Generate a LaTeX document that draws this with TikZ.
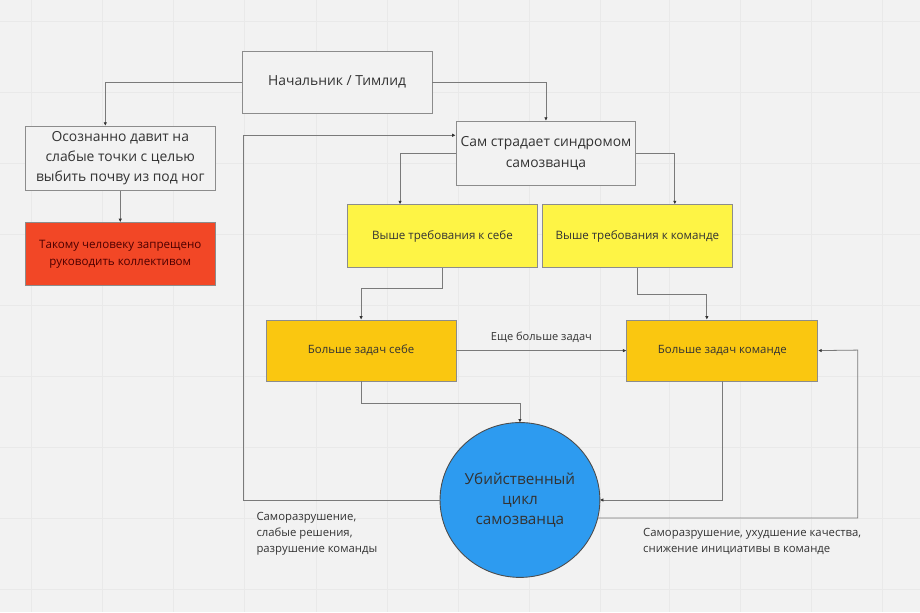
\documentclass[tikz,border=0pt]{standalone}
\usepackage{fontspec}
\setmainfont{Open Sans}
\usetikzlibrary{arrows.meta}
\usetikzlibrary{shapes.geometric}
\definecolor{bgcol}{HTML}{F2F2F2}
\definecolor{gridcol}{HTML}{E9E9E9}
\definecolor{edgecol}{HTML}{8C8C8C}
\definecolor{linkcol}{HTML}{7A7A7A}
\definecolor{txtcol}{HTML}{333333}
\definecolor{redcol}{HTML}{F24726}
\definecolor{yelcol}{HTML}{FEF445}
\definecolor{orcol}{HTML}{FAC710}
\definecolor{bluecol}{HTML}{2D9BF0}

\begin{document}
\begin{tikzpicture}[x=0.02cm, y=-0.02cm,
    box/.style={draw=edgecol, line width=0.5pt, fill=bgcol, text=txtcol, align=center,
        minimum width=3.8cm, minimum height=1.26cm, inner sep=1pt, font=\fontsize{7.9}{11.6}\selectfont},
    note/.style={box, fill=yelcol, font=\fontsize{6.6}{10}\selectfont},
    task/.style={box, fill=orcol, font=\fontsize{6.5}{10}\selectfont},
    link/.style={draw=linkcol, line width=0.45pt, -{Latex[length=2pt, width=2pt, color=black!80]}},
    remark/.style={anchor=north west, align=left, text=txtcol, inner sep=0pt, font=\fontsize{6.45}{9.2}\selectfont}]
    % - Board and grid
    \fill[bgcol] (0,0) rectangle (920,612);
    \foreach \gx in {31,102,173,244,316,387,458,529,600,670,741,812,883}
        \draw[gridcol, line width=0.4pt] (\gx,0) -- (\gx,612);
    \foreach \gy in {21,92,163,234,305,376,447,518,589}
        \draw[gridcol, line width=0.4pt] (0,\gy) -- (920,\gy);
    % - Boxes
    \node[box, minimum height=1.24cm] (boss) at (337,82) {Начальник / Тимлид};
    \node[box, minimum height=1.28cm] (press) at (120,158) {Осознанно давит на\\слабые точки с целью\\выбить почву из под ног};
    \node[box, fill=redcol, text=black!70!red, font=\fontsize{6.6}{10}\selectfont] (ban) at (120,254) {Такому человеку запрещено\\руководить коллективом};
    \node[box, minimum width=3.6cm, minimum height=1.28cm] (self) at (546,153) {Сам страдает синдромом\\самозванца};
    \node[note, minimum width=3.82cm] (reqself) at (442.5,236) {Выше требования к себе};
    \node[note, minimum width=3.82cm] (reqteam) at (637.5,236) {Выше требования к команде};
    \node[task, minimum height=1.22cm] (taskself) at (361,350.5) {Больше задач себе};
    \node[task, minimum width=3.82cm, minimum height=1.22cm] (taskteam) at (722.5,350.5) {Больше задач команде};
    \node[ellipse, draw=black!70, line width=0.5pt, fill=bluecol, text=txtcol, align=center,
        minimum width=3.2cm, minimum height=3.1cm, inner sep=0pt, outer sep=0pt,
        font=\fontsize{8.7}{11.6}\selectfont] (cycle) at (520,500) {Убийственный\\цикл\\самозванца};
    % - Connectors
    \draw[link] (boss.west) -| ([xshift=-0.3cm]press.north);
    \draw[link] (boss.east) -| (self.north);
    \draw[link] (press.south) -- (ban.north);
    \draw[link] (self.west) -| ([xshift=-0.85cm]reqself.north);
    \draw[link] (self.east) -| ([xshift=0.75cm]reqteam.north);
    \draw[link] (reqself.south) -- ++(0,20) -| (taskself.north);
    \draw[link] (reqteam.south) -- ++(0,26) -| ([xshift=-0.31cm]taskteam.north);
    \draw[link] (taskself.east) -- node[above, text=txtcol, font=\fontsize{6.3}{9}\selectfont, yshift=1pt] (more) {Еще больше задач} (taskteam.west);
    \draw[link] (taskself.south) -- ++(0,22) -| (cycle.north);
    \draw[link] (taskteam.south) |- (cycle.east);
    % - Loops back
    \coordinate (backL) at (243,500);
    \coordinate (backR) at (858,350);
    \draw[link] (cycle.west) -- (backL) |- ([yshift=0.36cm]self.west);
    \draw[link] (cycle.-13) -| (backR) -- (taskteam.east);
    % - Remarks
    \node[remark] (harmL) at (256,512) {Саморазрушение,\\слабые решения,\\разрушение команды};
    \node[remark] (harmR) at (643,528) {Саморазрушение, ухудшение качества,\\снижение инициативы в команде};
\end{tikzpicture}
\end{document}
